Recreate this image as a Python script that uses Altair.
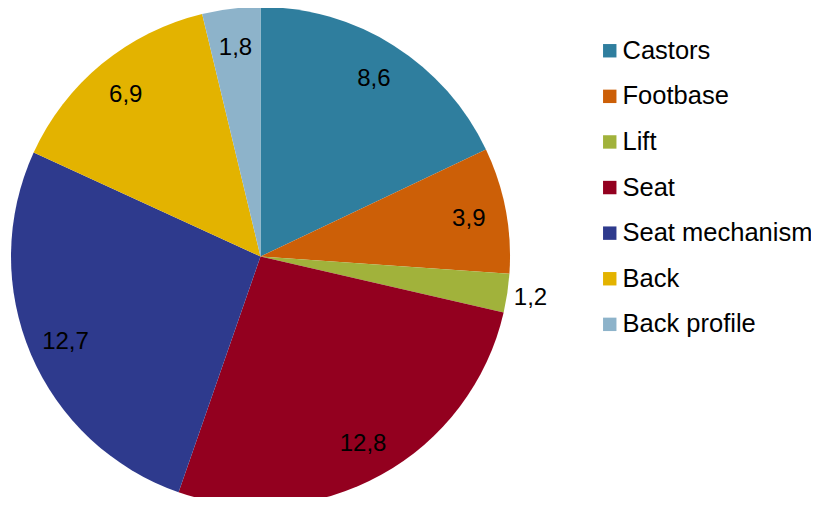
import altair as alt
import pandas as pd

categories = ["Castors", "Footbase", "Lift", "Seat", "Seat mechanism", "Back", "Back profile"]
values = [8.6, 3.9, 1.2, 12.8, 12.7, 6.9, 1.8]
colors = ["#2F7E9E", "#CC5F07", "#A1B23B", "#93001F", "#2E3A8D", "#E3B300", "#8DB3CA"]

df = pd.DataFrame({"category": categories, "value": values, "idx": list(range(len(categories)))})

CX, CY, R = 252.5, 248.5, 249.5
FONT = "Liberation Sans"

base = alt.Chart(df).transform_calculate(
    label="replace(format(datum.value, '.1f'), '.', ',')"
).encode(
    theta=alt.Theta("value:Q", stack=True),
    order=alt.Order("idx:Q"),
    x=alt.value(CX),
    y=alt.value(CY),
)

arcs = base.mark_arc(outerRadius=R, stroke=None).encode(
    color=alt.Color(
        "category:N",
        scale=alt.Scale(domain=categories, range=colors),
        sort=categories,
        legend=alt.Legend(
            title=None,
            orient="none",
            legendX=589,
            legendY=30,
            symbolType="square",
            symbolSize=180,
            symbolStrokeWidth=0,
            labelFont=FONT,
            labelFontSize=25.5,
            labelColor="#000000",
            labelOffset=0,
            rowPadding=18.6,
            padding=0,
            labelLimit=400,
        ),
    )
)

inner = base.mark_text(radius=212, dy=2, font=FONT, fontSize=24, color="#000000").encode(
    text=alt.condition("datum.category != 'Lift'", alt.Text("label:N"), alt.value(""))
)

outer = base.mark_text(radius=273, dy=1, font=FONT, fontSize=24, color="#000000").encode(
    text=alt.condition("datum.category == 'Lift'", alt.Text("label:N"), alt.value(""))
)

chart = alt.layer(arcs, inner, outer).properties(
    width=803,
    height=489,
    autosize=alt.AutoSizeParams(type="none"),
    padding=0,
).configure_view(stroke=None)

chart.save("out.html", embed_options={"renderer": "svg", "actions": False})
